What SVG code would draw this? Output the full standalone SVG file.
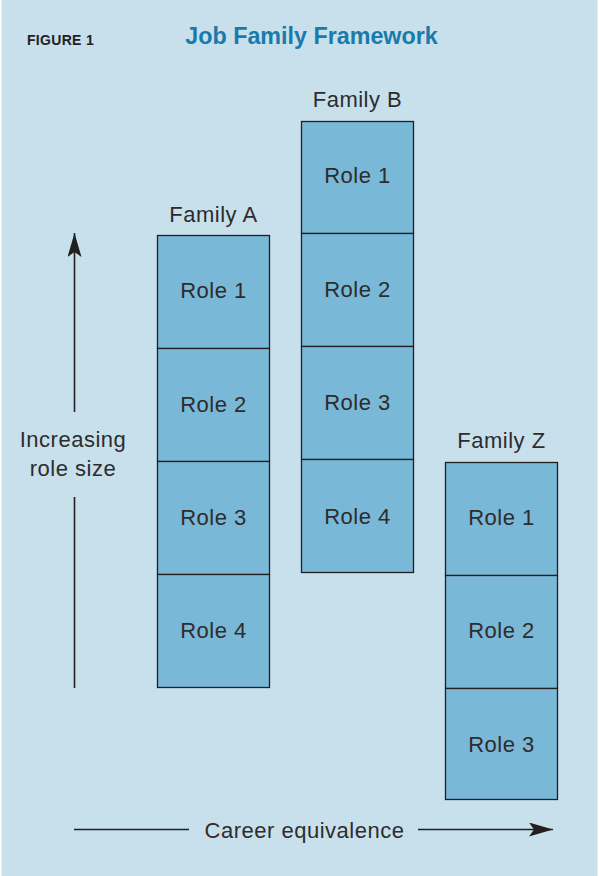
<svg xmlns="http://www.w3.org/2000/svg" width="599" height="876" viewBox="0 0 599 876">
<defs>
<style>
.box{fill:#7ab8d7;stroke:#231f20;stroke-width:1.3}
.lbl{font-family:"Liberation Sans",Arial,sans-serif;font-size:22px;letter-spacing:0.5px;fill:#2e2c2d;text-anchor:middle}
.ln{stroke:#231f20;stroke-width:1.6;fill:none}
</style>
<marker id="ah" viewBox="0 0 24 14" refX="24" refY="7" markerWidth="24" markerHeight="14" markerUnits="userSpaceOnUse" orient="auto">
<path d="M0,0 L24,7 L0,14 L5,7 Z" fill="#231f20"/>
</marker>
</defs>
<rect x="0" y="0" width="599" height="876" fill="#ffffff"/>
<rect x="1.5" y="0" width="596" height="876" fill="#c7e0ec"/>
<g id="header">
<text x="27" y="45" style="font-family:'Liberation Sans',Arial,sans-serif;font-size:14px;font-weight:bold;letter-spacing:0.3px;fill:#231f20">FIGURE 1</text>
<text x="311.5" y="44" style="font-family:'Liberation Sans',Arial,sans-serif;font-size:23.3px;font-weight:bold;fill:#1b7aa9;text-anchor:middle">Job Family Framework</text>
</g>
<g id="familyA">
<text class="lbl" x="213.5" y="222">Family A</text>
<rect class="box" x="157.5" y="235.5" width="112" height="113"/>
<rect class="box" x="157.5" y="348.5" width="112" height="113"/>
<rect class="box" x="157.5" y="461.5" width="112" height="113"/>
<rect class="box" x="157.5" y="574.5" width="112" height="113"/>
<text class="lbl" x="213.5" y="298">Role 1</text>
<text class="lbl" x="213.5" y="412">Role 2</text>
<text class="lbl" x="213.5" y="525">Role 3</text>
<text class="lbl" x="213.5" y="638">Role 4</text>
</g>
<g id="familyB">
<text class="lbl" x="357.5" y="107">Family B</text>
<rect class="box" x="301.5" y="121.5" width="112" height="112"/>
<rect class="box" x="301.5" y="233.5" width="112" height="113"/>
<rect class="box" x="301.5" y="346.5" width="112" height="113"/>
<rect class="box" x="301.5" y="459.5" width="112" height="113"/>
<text class="lbl" x="357.5" y="183">Role 1</text>
<text class="lbl" x="357.5" y="297">Role 2</text>
<text class="lbl" x="357.5" y="410">Role 3</text>
<text class="lbl" x="357.5" y="524">Role 4</text>
</g>
<g id="familyZ">
<text class="lbl" x="501.5" y="448">Family Z</text>
<rect class="box" x="445.5" y="462.5" width="112" height="113"/>
<rect class="box" x="445.5" y="575.5" width="112" height="113"/>
<rect class="box" x="445.5" y="688.5" width="112" height="111"/>
<text class="lbl" x="501.5" y="525">Role 1</text>
<text class="lbl" x="501.5" y="638">Role 2</text>
<text class="lbl" x="501.5" y="752">Role 3</text>
</g>
<g id="axisLabels">
<text class="lbl" x="73" y="447">Increasing</text>
<text class="lbl" x="73" y="476">role size</text>
<text class="lbl" x="304.5" y="838">Career equivalence</text>
</g>
<g id="connectors">
<line class="ln" x1="74.5" y1="412" x2="74.5" y2="233" marker-end="url(#ah)"/>
<line class="ln" x1="74.5" y1="497" x2="74.5" y2="688"/>
<line class="ln" x1="74" y1="829.5" x2="189" y2="829.5"/>
<line class="ln" x1="418" y1="829.5" x2="553" y2="829.5" marker-end="url(#ah)"/>
</g>
</svg>
